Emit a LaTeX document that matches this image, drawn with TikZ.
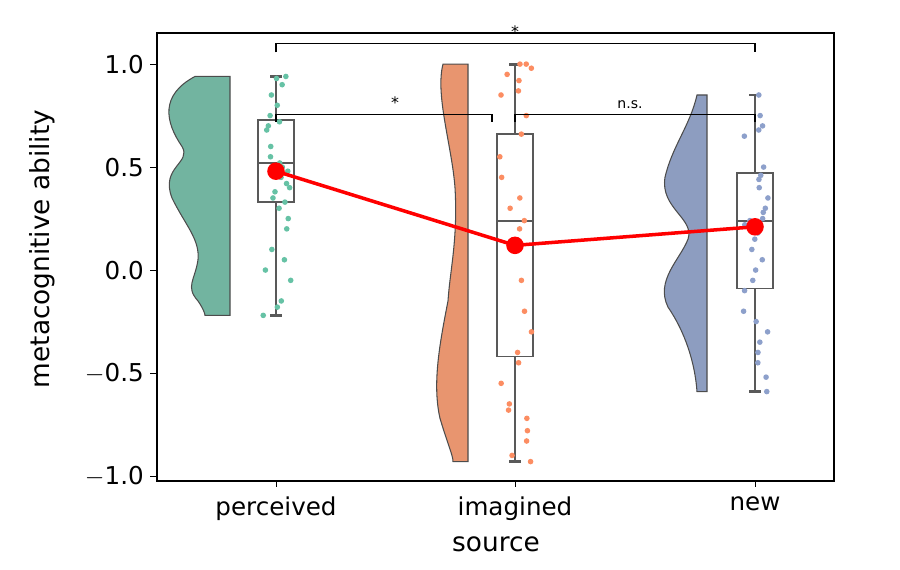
\documentclass[tikz,border=0pt]{standalone}
\usepackage{fontspec}
\setmainfont{DejaVu Sans}
\definecolor{cgreen}{RGB}{114,180,160}
\definecolor{corange}{RGB}{232,149,111}
\definecolor{cblue}{RGB}{141,157,192}
\definecolor{dgreen}{RGB}{102,194,165}
\definecolor{dorange}{RGB}{252,141,98}
\definecolor{dblue}{RGB}{141,160,203}
\tikzset{
  violin/.style={draw=black!70, line width=0.6pt},
  whisk/.style={draw=black!65, line width=1.6pt},
  boxp/.style={draw=black!65, line width=1pt},
  sigbar/.style={draw=black, line width=1pt},
  tick/.style={font=\fontsize{14}{16}\selectfont},
}
\begin{document}
\begin{tikzpicture}[x=0.02cm,y=0.02cm]
    \useasboundingbox (0,0) rectangle (900,569);
    % axes frame
    \draw[line width=0.8pt] (157,88) rectangle (834,536);
    \begin{scope}[yshift=5.98cm,y=4.12cm]
        % y ticks
        \foreach \v/\t in {1/1.0,0.5/0.5,0/0.0,-0.5/$-$0.5,-1/$-$1.0}
            \draw (157,\v) -- (150,\v) node[left,tick] (yt\t) {\t};
        % x ticks
        \foreach \xx/\t in {276/perceived,515/imagined,755/new}
            \draw (\xx,-1.02) -- (\xx,-1.055) node[below,tick,yshift=-2pt] (xt\t) {\t};
        % half violins
        \filldraw[violin,fill=cgreen] (230,0.94) -- (195,0.94)
            .. controls (160,0.85) and (165,0.72) .. (182,0.6)
            .. controls (192,0.52) and (160,0.5) .. (172,0.35)
            .. controls (185,0.22) and (200,0.15) .. (198,0.05)
            .. controls (195,-0.05) and (185,-0.08) .. (198,-0.15)
            .. controls (205,-0.2) and (205,-0.22) .. (205,-0.22) -- (230,-0.22) -- cycle;
        \filldraw[violin,fill=corange] (468,1) -- (443,1)
            .. controls (435,0.85) and (452,0.6) .. (455,0.4)
            .. controls (458,0.15) and (450,0) .. (448,-0.15)
            .. controls (440,-0.35) and (432,-0.55) .. (440,-0.72)
            .. controls (448,-0.85) and (453,-0.9) .. (453,-0.93) -- (468,-0.93) -- cycle;
        \filldraw[violin,fill=cblue] (707,0.85) -- (697,0.85)
            .. controls (690,0.7) and (672,0.6) .. (665,0.45)
            .. controls (660,0.3) and (695,0.25) .. (688,0.15)
            .. controls (680,0.05) and (655,-0.05) .. (668,-0.18)
            .. controls (685,-0.3) and (695,-0.45) .. (697,-0.59) -- (707,-0.59) -- cycle;
        % box plots
        \foreach \xx/\lo/\qa/\md/\qb/\hi in {276/-0.22/0.33/0.52/0.73/0.94,
                515/-0.93/-0.42/0.24/0.66/1.0, 755/-0.59/-0.09/0.24/0.47/0.85} {
            \draw[whisk] (\xx,\lo) -- (\xx,\qa) (\xx,\qb) -- (\xx,\hi);
            \draw[whisk] (\xx-6,\lo) -- (\xx+6,\lo) (\xx-6,\hi) -- (\xx+6,\hi);
            \draw[boxp] (\xx-18,\qa) rectangle (\xx+18,\qb);
            \draw[boxp] (\xx-18,\md) -- (\xx+18,\md);
        }
        % jittered points
        \pgfmathsetseed{11}
        \foreach \v in {0.94,0.93,0.9,0.85,0.8,0.75,0.72,0.7,0.68,0.6,0.55,0.52,0.5,0.48,0.45,0.42,0.4,0.38,0.35,0.33,0.3,0.25,0.2,0.1,0.05,0,-0.05,-0.15,-0.18,-0.22}
            {\pgfmathsetmacro\jx{276+15*rand} \fill[dgreen] (\jx,\v) circle[radius=1.6pt];}
        \foreach \v in {1.0,1.0,0.98,0.95,0.92,0.87,0.85,0.75,0.66,0.55,0.45,0.35,0.3,0.24,0.2,0.1,-0.05,-0.2,-0.3,-0.4,-0.45,-0.55,-0.65,-0.68,-0.72,-0.78,-0.83,-0.9,-0.93}
            {\pgfmathsetmacro\jx{515+18*rand} \fill[dorange] (\jx,\v) circle[radius=1.6pt];}
        \foreach \v in {0.85,0.75,0.7,0.68,0.65,0.5,0.46,0.44,0.4,0.35,0.3,0.28,0.25,0.24,0.22,0.18,0.15,0.1,0.05,0,-0.05,-0.1,-0.2,-0.25,-0.3,-0.35,-0.4,-0.45,-0.52,-0.59}
            {\pgfmathsetmacro\jx{755+15*rand} \fill[dblue] (\jx,\v) circle[radius=1.6pt];}
        % means
        \node[circle,fill=red,inner sep=0,minimum size=10pt] (mp) at (276,0.48) {};
        \node[circle,fill=red,inner sep=0,minimum size=10pt] (mi) at (515,0.12) {};
        \node[circle,fill=red,inner sep=0,minimum size=10pt] (mn) at (755,0.21) {};
        \draw[red,line width=2pt] (mp.center) -- (mi.center) -- (mn.center);
        % significance bars
        \coordinate (sa) at (276,1.1);
        \coordinate (sb) at (755,1.1);
        \draw[sigbar] ([yshift=-5]sa) -- (sa) -- (sb) -- ([yshift=-5]sb);
        \node[font=\small,above] (st) at (515,1.1) {*};
        \coordinate (sc) at (276,0.755);
        \coordinate (sd) at (492,0.755);
        \draw[sigbar] ([yshift=-4]sc) -- (sc) -- (sd) -- ([yshift=-4]sd);
        \node[font=\small,above] (sm) at (395,0.755) {*};
        \coordinate (se) at (515,0.755);
        \coordinate (sf) at (755,0.755);
        \draw[sigbar] ([yshift=-4]se) -- (se) -- (sf) -- ([yshift=-4]sf);
        \node[font=\footnotesize,above] (sn) at (630,0.755) {n.s.};
    \end{scope}
    \node[tick,font=\fontsize{15}{17}\selectfont] (xl) at (496,25) {source};
    \node[tick,font=\fontsize{15}{17}\selectfont,rotate=90] (yl) at (42,320) {metacognitive ability};
\end{tikzpicture}
\end{document}
